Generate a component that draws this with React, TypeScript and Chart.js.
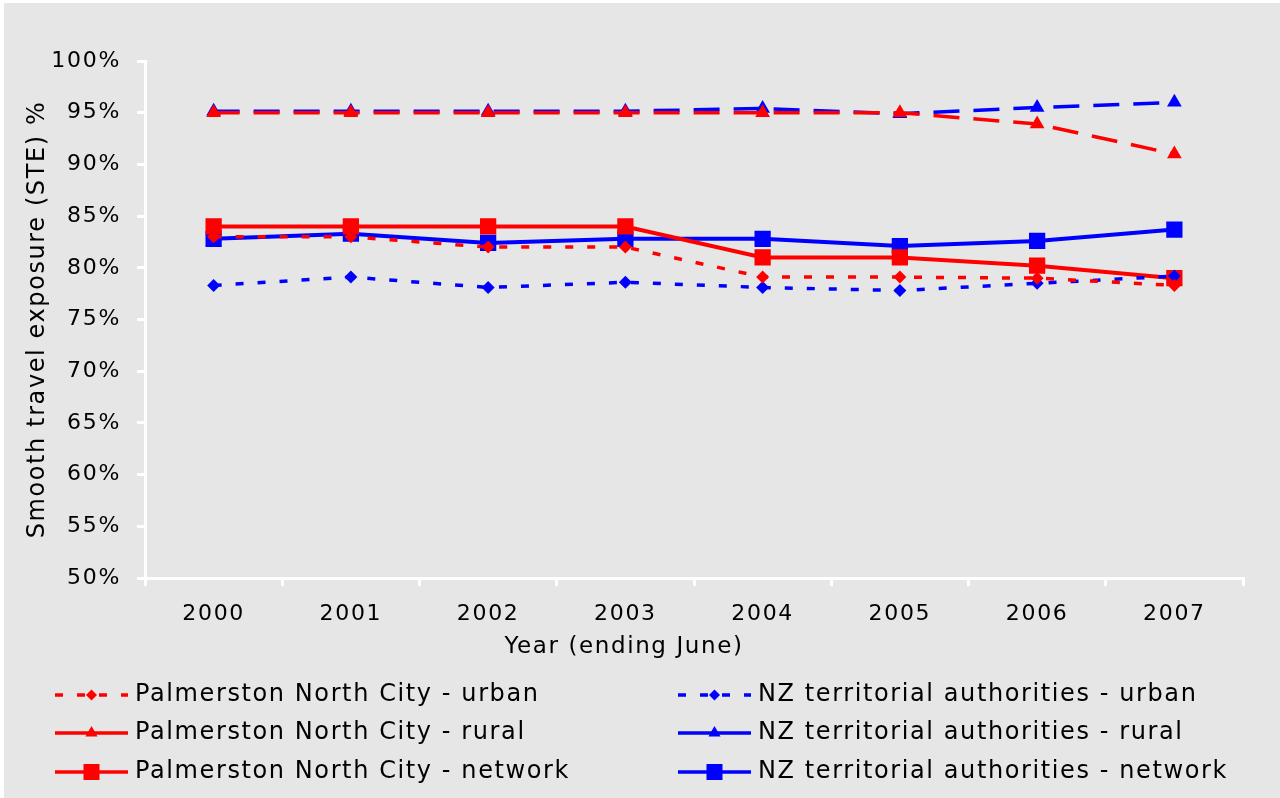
import React, { useEffect, useRef } from 'react';
import { Chart, registerables } from 'chart.js';

Chart.register(...registerables);

const years = ['2000', '2001', '2002', '2003', '2004', '2005', '2006', '2007'];

const pncUrban = [83.0, 83.0, 82.0, 82.0, 79.1, 79.1, 79.0, 78.3];
const nzUrban = [78.3, 79.1, 78.1, 78.6, 78.1, 77.8, 78.5, 79.2];
const pncRural = [95.0, 95.0, 95.0, 95.0, 95.0, 95.0, 93.9, 91.0];
const nzRural = [95.15, 95.15, 95.15, 95.15, 95.4, 94.9, 95.5, 96.0];
const pncNetwork = [84.0, 84.0, 84.0, 84.0, 81.0, 81.0, 80.2, 79.0];
const nzNetwork = [82.8, 83.3, 82.4, 82.8, 82.8, 82.1, 82.6, 83.7];

const seriesLabels = [
  'Palmerston North City - urban',
  'NZ territorial authorities - urban',
  'Palmerston North City - rural',
  'NZ territorial authorities - rural',
  'Palmerston North City - network',
  'NZ territorial authorities - network',
];

const yTitle = 'Smooth travel exposure (STE) %';
const xTitle = 'Year (ending June)';

const FONT = '"DejaVu Sans", Verdana, sans-serif';
const RED = '#ff0000';
const BLUE = '#0000ff';
const TICK_SPACING = '1.7px';

type Kind = 'urban' | 'rural' | 'network';

const styleFor = (kind: Kind, color: string) => {
  if (kind === 'urban') {
    return { borderColor: color, backgroundColor: color, borderWidth: 3.5, borderDash: [8, 14], pointStyle: 'rectRot', pointRadius: 6.5 };
  }
  if (kind === 'rural') {
    return { borderColor: color, backgroundColor: color, borderWidth: 3.5, borderDash: [26, 14], pointStyle: 'triangle', pointRadius: 8.5 };
  }
  return { borderColor: color, backgroundColor: color, borderWidth: 4, borderDash: [] as number[], pointStyle: 'rect', pointRadius: 11.5 };
};

const seriesData = [pncUrban, nzUrban, pncRural, nzRural, pncNetwork, nzNetwork];
const seriesKinds: Kind[] = ['urban', 'urban', 'rural', 'rural', 'network', 'network'];
const seriesColors = [RED, BLUE, RED, BLUE, RED, BLUE];

function drawMarker(ctx: CanvasRenderingContext2D, kind: Kind, x: number, y: number) {
  ctx.beginPath();
  if (kind === 'urban') {
    const r = 5.5;
    ctx.moveTo(x - r, y);
    ctx.lineTo(x, y - r);
    ctx.lineTo(x + r, y);
    ctx.lineTo(x, y + r);
  } else if (kind === 'rural') {
    const r = 7;
    ctx.moveTo(x, y - r);
    ctx.lineTo(x + r * 0.866, y + r / 2);
    ctx.lineTo(x - r * 0.866, y + r / 2);
  } else {
    const s = 8;
    ctx.rect(x - s, y - s, 2 * s, 2 * s);
  }
  ctx.closePath();
  ctx.fill();
}

export default function App() {
  const ref = useRef<HTMLCanvasElement>(null);

  useEffect(() => {
    if (!ref.current) return;

    const spacingPlugin = {
      id: 'spacing',
      beforeUpdate(chart: any) {
        chart.ctx.letterSpacing = TICK_SPACING;
      },
      beforeDraw(chart: any) {
        chart.ctx.letterSpacing = TICK_SPACING;
      },
    };

    const extrasPlugin = {
      id: 'extras',
      afterDraw(chart: any) {
        const ctx: CanvasRenderingContext2D = chart.ctx;
        const area = chart.chartArea;
        ctx.save();
        ctx.fillStyle = '#000';
        ctx.textBaseline = 'middle';
        ctx.textAlign = 'center';

        // x axis title
        ctx.letterSpacing = '1.6px';
        ctx.font = `23px ${FONT}`;
        ctx.fillText(xTitle, 620, 644);

        // y axis title
        ctx.save();
        ctx.letterSpacing = '1.6px';
        ctx.font = `24px ${FONT}`;
        ctx.translate(34, (area.top + area.bottom) / 2);
        ctx.rotate(-Math.PI / 2);
        ctx.fillText(yTitle, 0, 0);
        ctx.restore();

        // legend
        ctx.letterSpacing = '1.6px';
        ctx.font = `24px ${FONT}`;
        const colX = [51, 674];
        const rowY = [692, 730, 769];
        const sampleW = 73;
        seriesLabels.forEach((label, i) => {
          const col = i % 2;
          const row = Math.floor(i / 2);
          const x0 = colX[col];
          const y = rowY[row];
          const kind = seriesKinds[i];
          const color = seriesColors[i];
          ctx.save();
          ctx.strokeStyle = color;
          ctx.fillStyle = color;
          ctx.lineWidth = 3.5;
          if (kind === 'urban') ctx.setLineDash([8, 14]);
          else ctx.setLineDash([]);
          ctx.beginPath();
          ctx.moveTo(x0, y);
          ctx.lineTo(x0 + sampleW, y);
          ctx.stroke();
          ctx.setLineDash([]);
          drawMarker(ctx, kind, x0 + sampleW / 2, y);
          ctx.restore();
          ctx.textAlign = 'left';
          ctx.fillStyle = '#000';
          ctx.fillText(label, x0 + 80, y);
        });
        ctx.restore();
      },
    };

    const datasets = seriesLabels.map((label, i) => {
      const st = styleFor(seriesKinds[i], seriesColors[i]);
      return {
        label,
        data: seriesData[i],
        ...st,
        pointBorderWidth: 0,
        pointHoverRadius: st.pointRadius,
        fill: false,
        tension: 0,
      };
    });

    const chart = new Chart(ref.current, {
      type: 'line',
      data: { labels: years, datasets: datasets as any },
      options: {
        animation: false,
        responsive: true,
        maintainAspectRatio: false,
        layout: { padding: { top: 58, right: 37, left: 0, bottom: 0 } },
        plugins: {
          legend: { display: false },
          tooltip: { enabled: false },
        },
        scales: {
          x: {
            offset: true,
            grid: { offset: true, drawOnChartArea: false, drawTicks: true, tickLength: 8, color: '#ffffff', lineWidth: 3 },
            border: { color: '#ffffff', width: 3 },
            ticks: { color: '#000', font: { family: FONT, size: 22 }, padding: 15, maxRotation: 0, autoSkip: false },
            afterFit(s: any) {
              s.height = 220;
            },
          },
          y: {
            min: 50,
            max: 100,
            ticks: { stepSize: 5, callback: (v: any) => `${v}%`, padding: 16, color: '#000', font: { family: FONT, size: 22 } },
            grid: { drawOnChartArea: false, drawTicks: true, tickLength: 8, color: '#ffffff', lineWidth: 3 },
            border: { color: '#ffffff', width: 3 },
            title: { display: false },
            afterFit(s: any) {
              s.width = 141;
            },
          },
        },
      },
      plugins: [spacingPlugin, extrasPlugin],
    });

    return () => chart.destroy();
  }, []);

  return (
    <div style={{ position: 'absolute', left: 0, top: 0, width: 1280, height: 798, background: '#ffffff', overflow: 'hidden' }}>
      <div style={{ position: 'absolute', left: 4, top: 3, width: 1276, height: 795, background: '#e6e6e6' }}>
        <canvas ref={ref} />
      </div>
    </div>
  );
}
